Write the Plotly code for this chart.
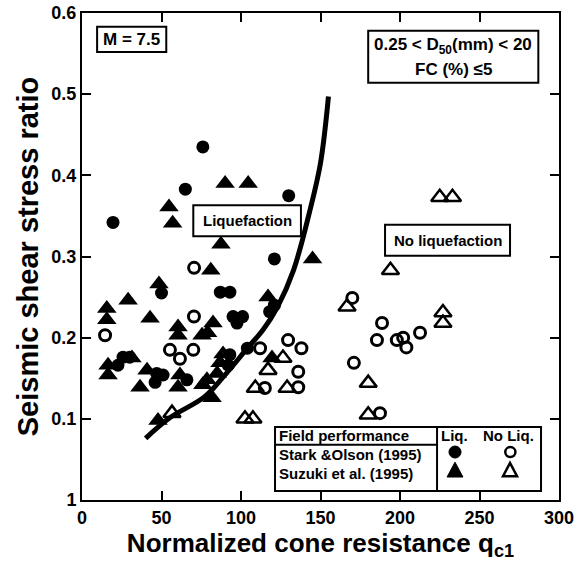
import plotly.graph_objects as go

# ---- data ----
so_liq_x = [76, 65, 130, 19.5, 121, 50, 87, 93, 121, 118, 95, 101, 97.5, 93, 92, 104,
            25.8, 30, 22.6, 47, 51, 46, 66]
so_liq_y = [0.435, 0.383, 0.375, 0.342, 0.297, 0.255, 0.256, 0.256, 0.240, 0.232, 0.226,
            0.226, 0.218, 0.179, 0.166, 0.187, 0.176, 0.176, 0.166, 0.156, 0.154, 0.145, 0.148]

su_liq_x = [90, 104.5, 54.7, 57, 87.4, 145, 81, 48.4, 29, 117, 15.6, 15.6, 42.8, 60.4,
            60.4, 82.4, 79, 75.5, 88.7, 86.8, 85, 78.6, 76, 81.8, 16.4, 16.4, 31.4, 40.9,
            36.5, 61.6, 60.4, 119.5, 47.8]
su_liq_y = [0.390, 0.390, 0.361, 0.341, 0.315, 0.297, 0.283, 0.266, 0.246, 0.250, 0.236,
            0.222, 0.224, 0.213, 0.203, 0.218, 0.206, 0.203, 0.180, 0.169, 0.156, 0.148,
            0.142, 0.126, 0.166, 0.154, 0.175, 0.160, 0.139, 0.154, 0.139, 0.175, 0.098]

so_noliq_x = [14.5, 70.4, 70.5, 55.3, 61.6, 70, 112, 129.6, 138, 136, 115, 136, 170,
              188.7, 185.5, 198, 202, 204, 212.6, 171, 187.4]
so_noliq_y = [0.203, 0.226, 0.286, 0.185, 0.174, 0.185, 0.187, 0.197, 0.187, 0.158, 0.138,
              0.139, 0.249, 0.218, 0.197, 0.197, 0.200, 0.188, 0.206, 0.169, 0.107]

su_noliq_x = [56.6, 102.5, 107.5, 126.4, 117, 109, 129, 225, 233, 194, 166.7, 227, 227,
              180, 180]
su_noliq_y = [0.107, 0.100, 0.100, 0.175, 0.160, 0.138, 0.138, 0.373, 0.373, 0.283, 0.238,
              0.231, 0.218, 0.144, 0.105]

curve_x = [40, 55, 77, 89, 104, 114, 123, 133, 143, 150, 155]
curve_y = [0.076, 0.101, 0.127, 0.152, 0.187, 0.210, 0.238, 0.283, 0.354, 0.415, 0.497]

x_ticks = [0, 50, 100, 150, 200, 250, 300]
x_ticklabels = ["0", "50", "100", "150", "200", "250", "300"]
y_ticks = [0, 0.1, 0.2, 0.3, 0.4, 0.5, 0.6]
y_ticklabels = ["1", "0.1", "0.2", "0.3", "0.4", "0.5", "0.6"]

FONT = "Liberation Sans"

fig = go.Figure()
fig.add_trace(go.Scatter(x=curve_x, y=curve_y, mode="lines",
                         line=dict(color="black", width=5, shape="spline", smoothing=1),
                         hoverinfo="skip"))
fig.add_trace(go.Scatter(x=so_liq_x, y=so_liq_y, mode="markers",
                         marker=dict(symbol="circle", size=13, color="black")))
fig.add_trace(go.Scatter(x=su_liq_x, y=su_liq_y, mode="markers",
                         marker=dict(symbol="triangle-up", size=17, color="black")))
fig.add_trace(go.Scatter(x=so_noliq_x, y=so_noliq_y, mode="markers",
                         marker=dict(symbol="circle-open", size=11, color="black", line=dict(width=3))))
fig.add_trace(go.Scatter(x=su_noliq_x, y=su_noliq_y, mode="markers",
                         marker=dict(symbol="triangle-up-open", size=15, color="black", line=dict(width=2.5))))

BL = dict(color="black", width=2)
shapes = [
    dict(type="rect", x0=9.5, x1=53, y0=0.552, y1=0.583, line=BL, fillcolor="white"),
    dict(type="rect", x0=180, x1=287, y0=0.514, y1=0.578, line=BL, fillcolor="white"),
    dict(type="rect", x0=70, x1=137.7, y0=0.325, y1=0.363, line=BL, fillcolor="white"),
    dict(type="rect", x0=190.6, x1=269.2, y0=0.301, y1=0.339, line=BL, fillcolor="white"),
    dict(type="rect", x0=121.4, x1=288.7, y0=0.011, y1=0.090, line=BL, fillcolor="white"),
    dict(type="line", x0=121.4, x1=223.3, y0=0.068, y1=0.068, line=BL),
    dict(type="line", x0=223.3, x1=223.3, y0=0.011, y1=0.090, line=BL),
    # legend key symbols
    dict(type="circle", x0=230.8, x1=238.4, y0=0.0517, y1=0.0665, line=dict(color="black", width=1), fillcolor="black"),
    dict(type="path", path="M 229.6,0.0283 L 239.6,0.0283 L 234.6,0.0466 Z", line=dict(color="black", width=1), fillcolor="black"),
    dict(type="circle", x0=266.2, x1=272.6, y0=0.0530, y1=0.0652, line=dict(color="black", width=2.5), fillcolor="white"),
    dict(type="path", path="M 264.8,0.0293 L 273.6,0.0293 L 269.2,0.0456 Z", line=dict(color="black", width=2.5), fillcolor="white"),
]
for s in shapes:
    s["layer"] = "above"

ann = []
def t(x, y, text, size=13, xanchor="center"):
    ann.append(dict(x=x, y=y, text=text, showarrow=False, xanchor=xanchor, yanchor="middle",
                    font=dict(family=FONT, size=size, color="black")))

t(31.2, 0.567, "<b>M = 7.5</b>", 17)
t(233.5, 0.559, "<b>0.25 &lt; D<sub>50</sub>(mm) &lt; 20</b>", 17)
t(233.5, 0.531, "<b>FC (%) ≤5</b>", 17)
t(103.9, 0.344, "<b>Liquefaction</b>", 15)
t(229.9, 0.320, "<b>No liquefaction</b>", 15)
t(122.5, 0.079, "<b>Field performance</b>", 15, "left")
t(122.5, 0.056, "<b>Stark &amp;Olson (1995)</b>", 15, "left")
t(122.5, 0.033, "<b>Suzuki et al. (1995)</b>", 15, "left")
t(234.0, 0.079, "<b>Liq.</b>", 15)
t(268.5, 0.079, "<b>No Liq.</b>", 15)

fig.update_layout(
    width=585, height=567,
    margin=dict(l=82, r=26, t=13, b=67),
    plot_bgcolor="white", paper_bgcolor="white",
    showlegend=False, hovermode=False,
    shapes=shapes, annotations=ann,
    font=dict(family=FONT, color="black"),
    xaxis=dict(range=[0, 300], tickvals=x_ticks, ticktext=["<b>%s</b>" % s for s in x_ticklabels],
               ticks="inside", ticklen=9, tickwidth=2, tickcolor="black",
               showline=True, linecolor="black", linewidth=2, mirror="ticks",
               showgrid=False, zeroline=False, tickfont=dict(size=18, family=FONT), automargin=False,
               ticklabeloverflow="allow",
               title=dict(text="<b>Normalized cone resistance q<sub>c1</sub></b>", font=dict(size=26, family=FONT), standoff=2)),
    yaxis=dict(range=[0, 0.6], tickvals=y_ticks, ticktext=["<b>%s</b>" % s for s in y_ticklabels],
               ticks="inside", ticklen=9, tickwidth=2, tickcolor="black",
               showline=True, linecolor="black", linewidth=2, mirror="ticks",
               showgrid=False, zeroline=False, tickfont=dict(size=18, family=FONT), automargin=False,
               ticklabeloverflow="allow",
               title=dict(text="<b>Seismic shear stress ratio</b>", font=dict(size=29, family=FONT), standoff=4)),
)

# remove the browser's default 8px body margin so the figure sits at the page origin
fig.write_html("out.html", config={"displayModeBar": False, "staticPlot": True},
               post_script="document.body.style.margin='0';document.body.style.overflow='hidden';")
